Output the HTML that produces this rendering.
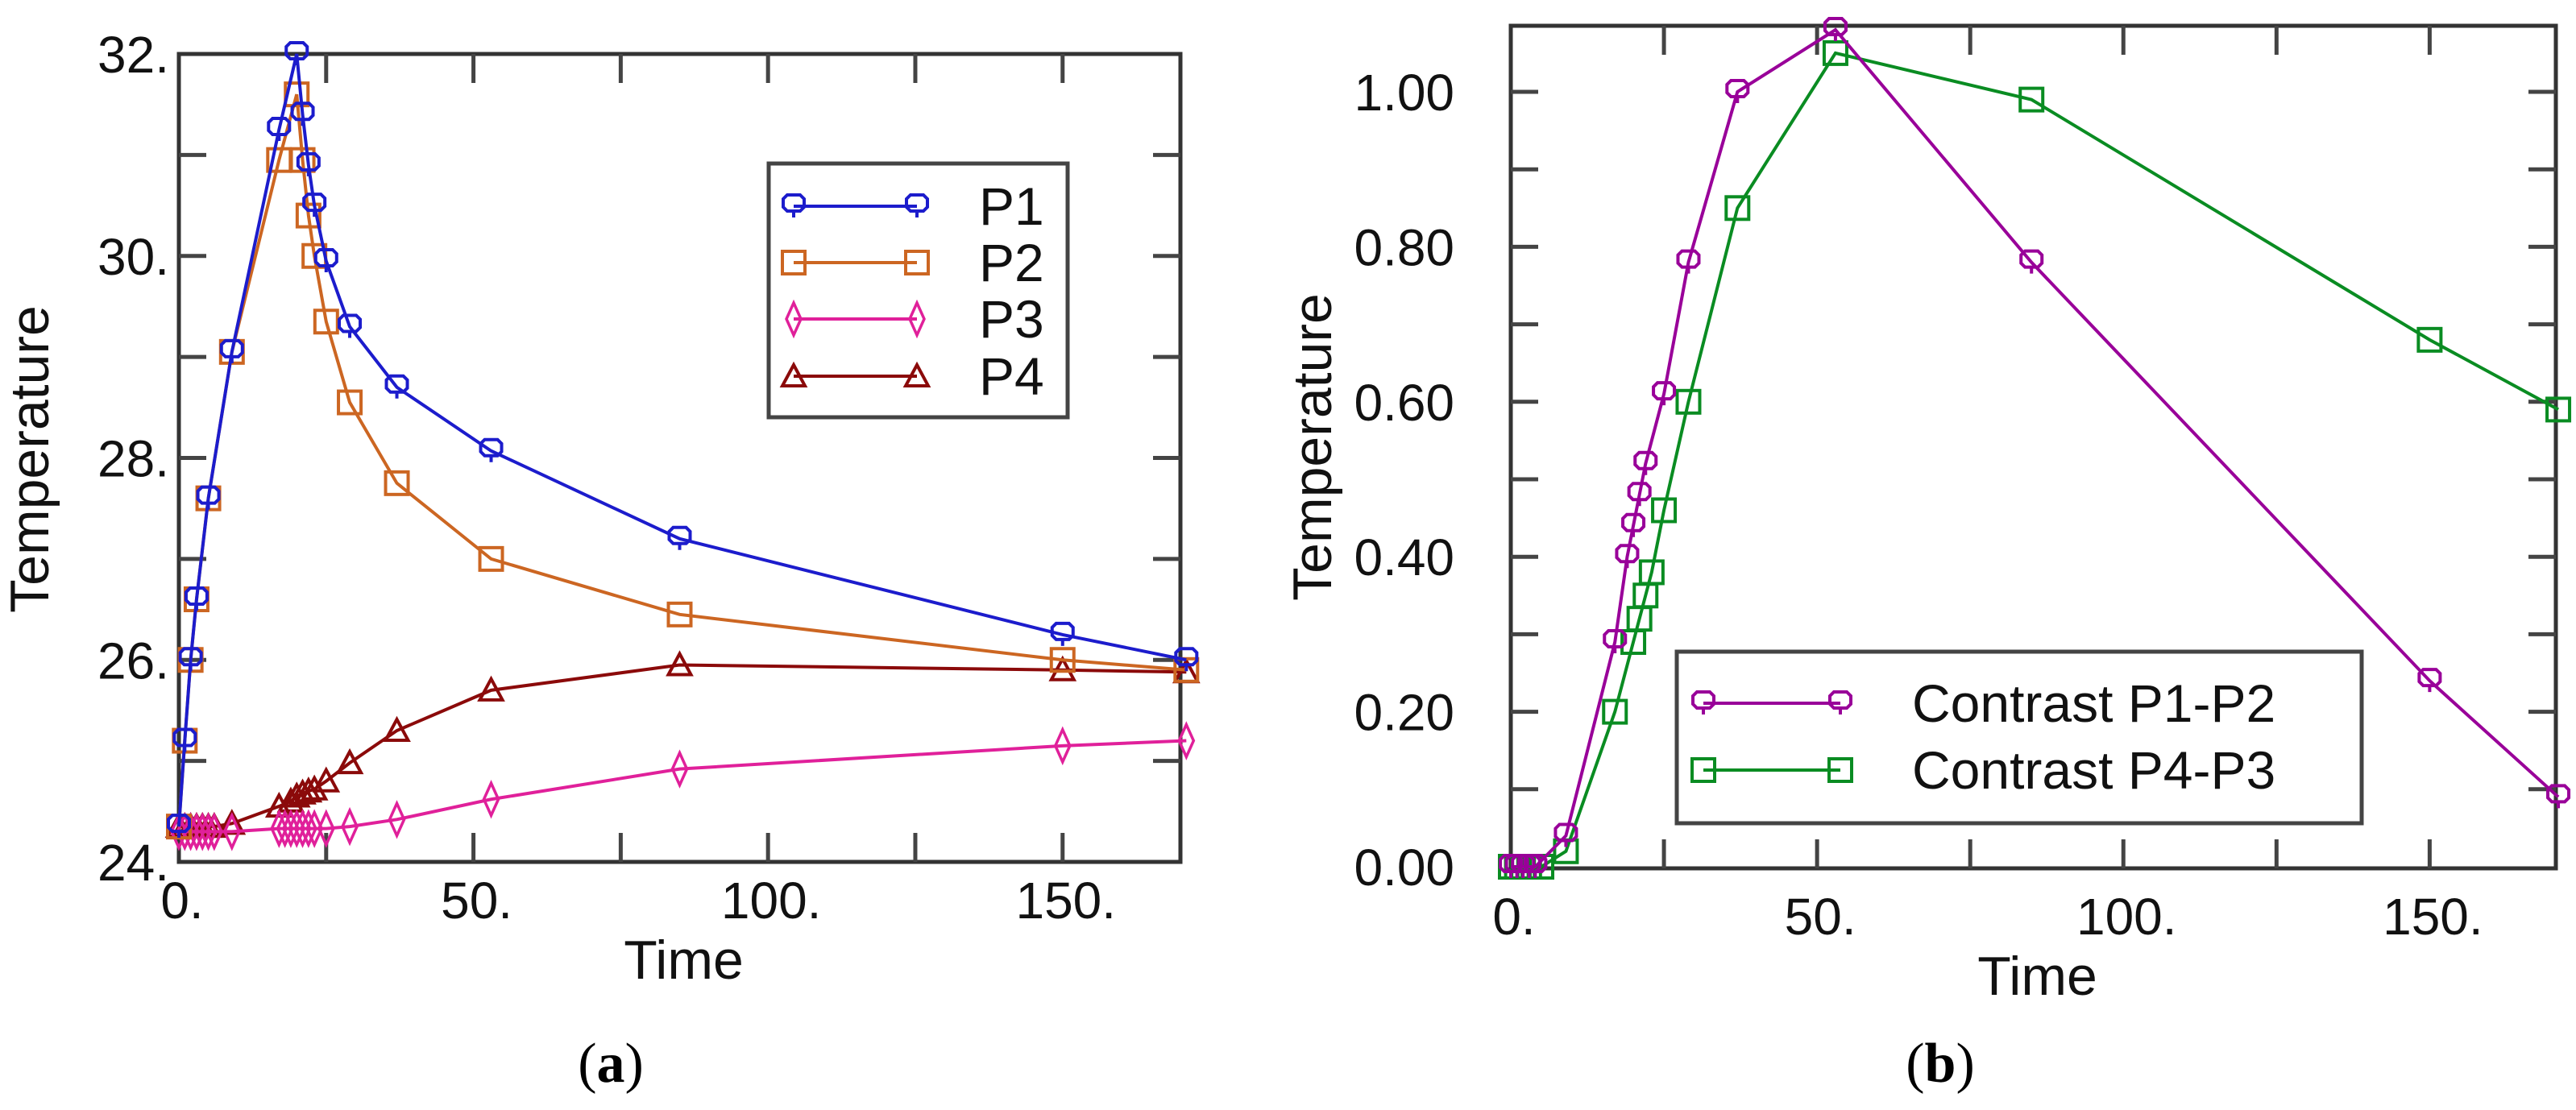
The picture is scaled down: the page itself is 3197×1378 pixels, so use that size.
<!DOCTYPE html>
<html><head><meta charset="utf-8"><style>
html,body{margin:0;padding:0;background:#fff;}
svg{display:block;}
text{font-family:"Liberation Sans","DejaVu Sans",sans-serif;}
</style></head><body>
<svg id="fig" width="3197" height="1378" viewBox="0 0 3197 1378" xmlns="http://www.w3.org/2000/svg">
<g id="pa"></g>
<g id="pb"></g>
<text x="758" y="1343" font-size="70" text-anchor="middle" style="font-family:'Liberation Serif',serif">(<tspan font-weight="bold">a</tspan>)</text>
<text x="2408" y="1343" font-size="70" text-anchor="middle" style="font-family:'Liberation Serif',serif">(<tspan font-weight="bold">b</tspan>)</text>
</svg>
<script>
// Panel (a) data
const aTime = [0,1,2,3,5,9,17,20,21,22,23,25,29,37,53,85,150,171];
const aP1 = [24.35,25.2,26,26.6,27.6,29.05,31.25,32,31.4,30.9,30.5,29.95,29.3,28.7,28.07,27.2,26.25,26];
const aP2 = [24.35,25.2,26,26.6,27.6,29.05,30.95,31.6,30.95,30.4,30,29.35,28.55,27.75,27,26.45,26,25.9];
const aP3Time = [0,1,2,3,4,5,6,9,17,18,19,20,21,22,23,25,29,37,53,85,150,171];
const aP3 = [24.3,24.3,24.3,24.3,24.3,24.3,24.3,24.3,24.33,24.33,24.33,24.33,24.33,24.33,24.33,24.33,24.35,24.42,24.62,24.92,25.15,25.2];
const aP4Time = [0,1,2,3,4,5,6,9,17,19,20,21,22,23,25,29,37,53,85,150,171];
const aP4 = [24.35,24.35,24.35,24.35,24.35,24.35,24.35,24.38,24.55,24.6,24.65,24.68,24.7,24.72,24.8,24.98,25.3,25.7,25.95,25.9,25.88];
const aXTicks = [0,50,100,150];
const aXTickLabels = ["0.","50.","100.","150."];
const aYTicks = [24,26,28,30,32];
const aYTickLabels = ["24.","26.","28.","30.","32."];
// Panel (b) data
const bTime12 = [0,1,2,3,4,9,17,19,20,21,22,25,29,37,53,85,150,171];
const bC12 = [0,0,0,0,0,0.04,0.29,0.4,0.44,0.48,0.52,0.61,0.78,1.0,1.08,0.78,0.24,0.09];
const bTime43 = [0,1,2,3,5,9,17,20,21,22,23,25,29,37,53,85,150,171];
const bC43 = [0,0,0,0,0,0.02,0.2,0.29,0.32,0.35,0.38,0.46,0.6,0.85,1.05,0.99,0.68,0.59];
const bXTicks = [0,50,100,150];
const bXTickLabels = ["0.","50.","100.","150."];
const bYTicks = [0,0.2,0.4,0.6,0.8,1.0];
const bYTickLabels = ["0.00","0.20","0.40","0.60","0.80","1.00"];

const NS="http://www.w3.org/2000/svg";
function mk(parent,tag,attrs){const e=document.createElementNS(NS,tag);for(const k in attrs)e.setAttribute(k,attrs[k]);parent.appendChild(e);return e;}

function marker(g,type,x,y,color){
  let e;
  if(type==="circle"){
    e=mk(g,"path",{d:`M${x-8},${y-14}h16l5,5v10l-5,5h-16l-5,-5v-10z M${x},${y+6}v8`,fill:"none",stroke:color,"stroke-width":4});
  }else if(type==="square"){
    e=mk(g,"rect",{x:x-14,y:y-14,width:28,height:28,fill:"none",stroke:color,"stroke-width":4});
  }else if(type==="diamond"){
    e=mk(g,"path",{d:`M${x},${y-20}L${x+9},${y}L${x},${y+20}L${x-9},${y}Z`,fill:"none",stroke:color,"stroke-width":3.5});
  }else{
    e=mk(g,"path",{d:`M${x},${y-14}L${x+14},${y+12}L${x-14},${y+12}Z`,fill:"none",stroke:color,"stroke-width":4});
  }
  
  
}

function series(g,xs,ys,sx,sy,color,type,name){
  const sg=mk(g,"g",{});
  
  
  const pts=xs.map((v,i)=>sx(v)+","+sy(ys[i])).join(" ");
  const pl=mk(sg,"polyline",{points:pts,fill:"none",stroke:color,"stroke-width":4});
  
  
  xs.forEach((v,i)=>marker(sg,type,sx(v),sy(ys[i]),color));
}

function frame(g,L,T,R,B,sx,sy,xt,xl,yt,yl,minorX,minorY,ylabelX,ylabelY,timeY,yGap){
  const fr=mk(g,"rect",{x:L,y:T,width:R-L,height:B-T,fill:"none",stroke:"#333","stroke-width":5});
  
  
  minorX.forEach(v=>{const x=sx(v);
    const t1=mk(g,"line",{x1:x,y1:B,x2:x,y2:B-36,stroke:"#444","stroke-width":5});
    
    const t2=mk(g,"line",{x1:x,y1:T,x2:x,y2:T+36,stroke:"#444","stroke-width":5});
    });
  minorY.forEach(v=>{const y=sy(v);
    const t1=mk(g,"line",{x1:L,y1:y,x2:L+34,y2:y,stroke:"#444","stroke-width":5});
    
    const t2=mk(g,"line",{x1:R,y1:y,x2:R-34,y2:y,stroke:"#444","stroke-width":5});
    });
  xt.forEach((v,i)=>{const t=mk(g,"text",{x:sx(v)+4,y:timeY-75,"font-size":64,"text-anchor":"middle",fill:"#111"});t.textContent=xl[i];
    });
  yt.forEach((v,i)=>{const t=mk(g,"text",{x:L-yGap,y:sy(v)+23,"font-size":64,"text-anchor":"end",fill:"#111"});t.textContent=yl[i];
    });
  const xt2=mk(g,"text",{x:(L+R)/2+5,y:timeY,"font-size":68,"text-anchor":"middle",fill:"#111"});xt2.textContent="Time";
  
  const yt2=mk(g,"text",{x:ylabelX,y:ylabelY,"font-size":68,"text-anchor":"middle",fill:"#111",transform:`rotate(-90 ${ylabelX} ${ylabelY})`});yt2.textContent="Temperature";
  
}

function legend(g,x,y,w,h,entries,lx1,lx2,tx,ys,fs,name){
  const lg=mk(g,"g",{});
  
  
  mk(lg,"rect",{x:x,y:y,width:w,height:h,fill:"#fff",stroke:"#444","stroke-width":5});
  entries.forEach((e,i)=>{
    const eg=mk(lg,"g",{});
    
    
    mk(eg,"line",{x1:lx1,y1:ys[i],x2:lx2,y2:ys[i],stroke:e.c,"stroke-width":4});
    marker(eg,e.t,lx1,ys[i],e.c);marker(eg,e.t,lx2,ys[i],e.c);
    const t=mk(eg,"text",{x:tx,y:ys[i]+23,"font-size":fs,fill:"#111"});t.textContent=e.n;
  });
}

// Panel a
(function(){
  const g=document.getElementById("pa");
  const L=222,T=67,R=1465,B=1070;
  const sx=v=>L+(v-0)/(170-0)*(R-L);
  const sy=v=>B-(v-24)/(32-24)*(B-T);
  frame(g,L,T,R,B,sx,sy,aXTicks,aXTickLabels,aYTicks,aYTickLabels,[25,50,75,100,125,150],[25,26,27,28,29,30,31],60,570,1215,12);
  series(g,aP4Time,aP4,sx,sy,"#8b0a0a","tri","series-p4");
  series(g,aP3Time,aP3,sx,sy,"#e0209a","diamond","series-p3");
  series(g,aTime,aP2,sx,sy,"#cc6622","square","series-p2");
  series(g,aTime,aP1,sx,sy,"#1c1ccc","circle","series-p1");
  legend(g,954,203,371,315,[{n:"P1",c:"#1c1ccc",t:"circle"},{n:"P2",c:"#cc6622",t:"square"},{n:"P3",c:"#e0209a",t:"diamond"},{n:"P4",c:"#8b0a0a",t:"tri"}],985,1138,1215,[256,326,396,467],66,"legend-a");
})();
// Panel b
(function(){
  const g=document.getElementById("pb");
  const L=1875,T=32,R=3172,B=1078;
  const sx=v=>L+(v-0)/(170.6-0)*(R-L);
  const sy=v=>1076-(v-0)*962;
  frame(g,L,T,R,B,sx,sy,bXTicks,bXTickLabels,bYTicks,bYTickLabels,[25,50,75,100,125,150],[0.1,0.2,0.3,0.4,0.5,0.6,0.7,0.8,0.9,1.0],1652,555,1235,70);
  series(g,bTime43,bC43,sx,sy,"#0a8c22","square","series-contrast-p4-p3");
  series(g,bTime12,bC12,sx,sy,"#990099","circle","series-contrast-p1-p2");
  legend(g,2081,809,850,213,[{n:"Contrast P1-P2",c:"#990099",t:"circle"},{n:"Contrast P4-P3",c:"#0a8c22",t:"square"}],2114,2284,2373,[873,956],66,"legend-b");
})();
</script>
</body></html>
